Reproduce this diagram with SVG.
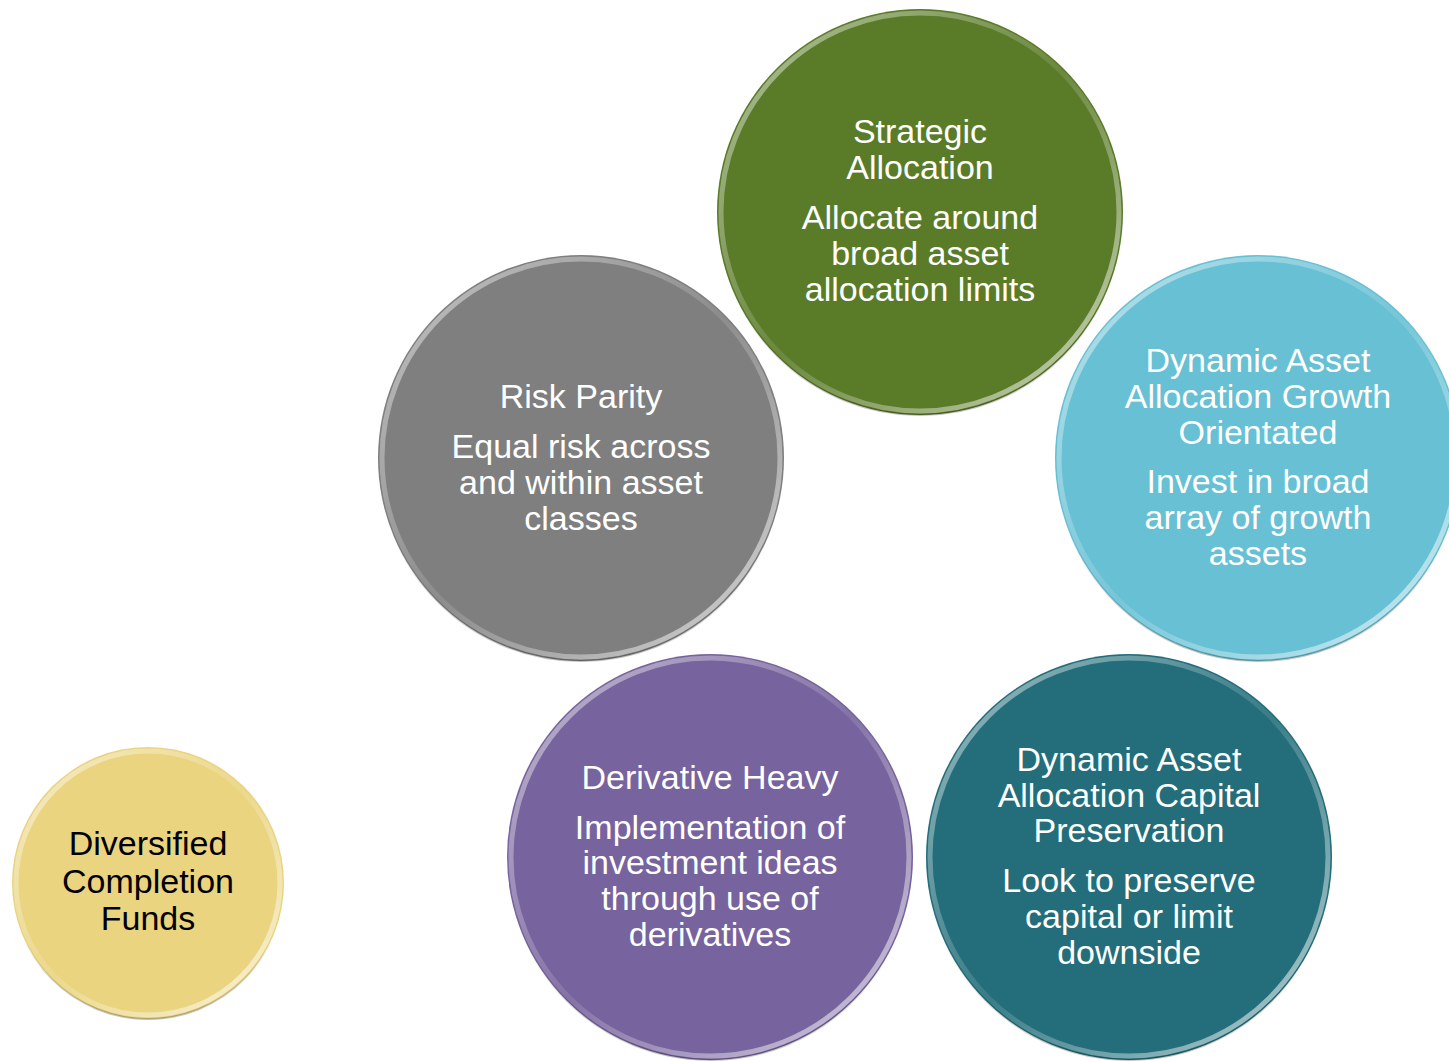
<svg xmlns="http://www.w3.org/2000/svg" width="1449" height="1061" viewBox="0 0 1449 1061">
<defs>
<linearGradient id="rim" x1="0" y1="0" x2="1" y2="1">
<stop offset="0" stop-color="#ffffff" stop-opacity="0.55"/>
<stop offset="0.5" stop-color="#ffffff" stop-opacity="0.1"/>
<stop offset="1" stop-color="#ffffff" stop-opacity="0.7"/>
</linearGradient>
<linearGradient id="rim2" x1="0" y1="0" x2="0" y2="1">
<stop offset="0" stop-color="#000000" stop-opacity="0"/>
<stop offset="0.7" stop-color="#000000" stop-opacity="0"/>
<stop offset="1" stop-color="#000000" stop-opacity="0.25"/>
</linearGradient>
</defs>
<style>
.rim{fill:none;stroke:url(#rim);stroke-width:5}
.edge{fill:none;stroke:url(#rim2);stroke-width:2}
.t{font-family:"Liberation Sans",Arial,sans-serif;font-size:34px;fill:#ffffff;text-anchor:middle}
.tk{font-family:"Liberation Sans",Arial,sans-serif;font-size:34px;fill:#000000;text-anchor:middle}
</style>
<rect width="1449" height="1061" fill="#ffffff"/>
<g id="strategic">
<circle cx="920" cy="212" r="203" fill="#5A7B28"/>
<circle cx="920" cy="212" r="199" class="rim"/>
<circle cx="920" cy="212" r="203" class="edge"/>
<text class="t" x="920" y="143">Strategic</text>
<text class="t" x="920" y="179">Allocation</text>
<text class="t" x="920" y="229">Allocate around</text>
<text class="t" x="920" y="265">broad asset</text>
<text class="t" x="920" y="301">allocation limits</text>
</g>
<g id="riskparity">
<circle cx="581" cy="458" r="203" fill="#7F7F7F"/>
<circle cx="581" cy="458" r="199" class="rim"/>
<circle cx="581" cy="458" r="203" class="edge"/>
<text class="t" x="581" y="408">Risk Parity</text>
<text class="t" x="581" y="458">Equal risk across</text>
<text class="t" x="581" y="494">and within asset</text>
<text class="t" x="581" y="530">classes</text>
</g>
<g id="growth">
<circle cx="1258" cy="458" r="203" fill="#67C0D4"/>
<circle cx="1258" cy="458" r="199" class="rim"/>
<circle cx="1258" cy="458" r="203" class="edge"/>
<text class="t" x="1258" y="372">Dynamic Asset</text>
<text class="t" x="1258" y="408">Allocation Growth</text>
<text class="t" x="1258" y="444">Orientated</text>
<text class="t" x="1258" y="493">Invest in broad</text>
<text class="t" x="1258" y="529">array of growth</text>
<text class="t" x="1258" y="565">assets</text>
</g>
<g id="derivative">
<circle cx="710" cy="857" r="203" fill="#77639D"/>
<circle cx="710" cy="857" r="199" class="rim"/>
<circle cx="710" cy="857" r="203" class="edge"/>
<text class="t" x="710" y="789">Derivative Heavy</text>
<text class="t" x="710" y="839">Implementation of</text>
<text class="t" x="710" y="874">investment ideas</text>
<text class="t" x="710" y="910">through use of</text>
<text class="t" x="710" y="946">derivatives</text>
</g>
<g id="capital">
<circle cx="1129" cy="857" r="203" fill="#236E7A"/>
<circle cx="1129" cy="857" r="199" class="rim"/>
<circle cx="1129" cy="857" r="203" class="edge"/>
<text class="t" x="1129" y="771">Dynamic Asset</text>
<text class="t" x="1129" y="807">Allocation Capital</text>
<text class="t" x="1129" y="842">Preservation</text>
<text class="t" x="1129" y="892">Look to preserve</text>
<text class="t" x="1129" y="928">capital or limit</text>
<text class="t" x="1129" y="964">downside</text>
</g>
<g id="diversified">
<circle cx="148" cy="883" r="136" fill="#EAD47F"/>
<circle cx="148" cy="883" r="132" class="rim"/>
<circle cx="148" cy="883" r="136" class="edge"/>
<text class="tk" x="148" y="855">Diversified</text>
<text class="tk" x="148" y="893">Completion</text>
<text class="tk" x="148" y="930">Funds</text>
</g>
<g id="connectors"/>
</svg>
